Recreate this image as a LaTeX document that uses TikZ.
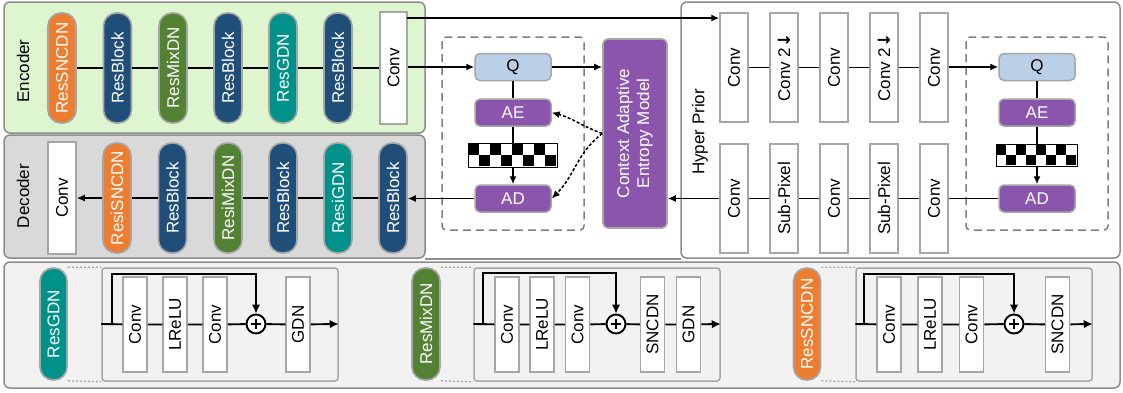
\documentclass[tikz,border=0pt]{standalone}
\usepackage{fontspec}
\setmainfont{Liberation Sans}
\newfontfamily\arrowfont{DejaVu Sans}
\usepackage{graphicx}
\usetikzlibrary{arrows.meta,calc}

\definecolor{encfill}{HTML}{DDF6D0}
\definecolor{decfill}{HTML}{D9D9D9}
\definecolor{panelfill}{HTML}{F2F2F2}
\definecolor{framegray}{HTML}{8C8C8C}
\definecolor{boxgray}{HTML}{A6A6A6}
\definecolor{dashgray}{HTML}{7F7F7F}
\definecolor{cOrange}{HTML}{ED7D31}
\definecolor{cBlue}{HTML}{1F4E79}
\definecolor{cGreen}{HTML}{548235}
\definecolor{cTeal}{HTML}{00918A}
\definecolor{cPurple}{HTML}{8B55AE}
\definecolor{cQ}{HTML}{BACFE8}

\newcommand\vtext[1]{\rotatebox{90}{#1}}
\newcommand\down{{\arrowfont\bfseries ↓}}

\begin{document}
\begin{tikzpicture}[x=1pt,y=-1pt,
  font=\fontsize{17}{20}\selectfont,
  line width=1.4pt,
  arr/.style={-{Latex[length=8pt,width=7pt]}},
  barr/.style={line width=1.9pt,-{Latex[length=9pt,width=8.5pt]}},
  bl/.style={line width=1.9pt},
  pill/.style={draw=boxgray, line width=1.6pt, rounded corners=13pt,
    minimum width=28pt, minimum height=110pt, inner sep=0pt, text=white},
  convbox/.style={draw=boxgray, line width=1.5pt, fill=white,
    minimum width=28pt, minimum height=109pt, inner sep=0pt},
  blk/.style={draw=boxgray, line width=1.5pt, fill=white,
    minimum width=24pt, minimum height=95pt, inner sep=0pt},
  codec/.style={draw=boxgray, line width=1.5pt, rounded corners=5pt,
    minimum width=76pt, minimum height=27pt, inner sep=0pt},
  dbox/.style={draw=dashgray, line width=1.5pt, dash pattern=on 8pt off 5pt,
    rounded corners=4pt},
  detail/.style={draw=boxgray, line width=1.5pt, rounded corners=3pt,
    minimum width=236pt, minimum height=113pt, inner sep=0pt},
  sum/.style={circle, draw, line width=1.9pt, fill=white,
    minimum size=19pt, inner sep=0pt},
  link/.style={draw=boxgray, line width=1.3pt, dash pattern=on 2pt off 2pt},
  ctx/.style={-{Latex[length=8pt,width=7pt]}, line width=1.5pt, dash pattern=on 3pt off 2pt},
  frame/.style={draw=framegray, line width=1.5pt, rounded corners=6pt}
]
\useasboundingbox (0,0) rectangle (1123,392);

% ---------- background frames ----------
\path[frame, fill=encfill] (4,2) rectangle (425,133);
\path[frame, fill=decfill] (4,135) rectangle (425,258);
\path[frame, fill=white] (681,2) rectangle (1120,258);
\draw[framegray, line width=1.5pt] (425,259) -- (681,259);
\path[frame, fill=panelfill] (4,262) rectangle (1120,388);

\node (enclab) at (23,71) {\vtext{Encoder}};
\node (declab) at (23,196) {\vtext{Decoder}};
\node (hplab) at (700,132) {\vtext{Hyper Prior}};

% ---------- encoder ----------
\node[pill, fill=cOrange] (e1) at (62,68) {\vtext{ResSNCDN}};
\node[pill, fill=cBlue]   (e2) at (117.5,68) {\vtext{ResBlock}};
\node[pill, fill=cGreen]  (e3) at (173,68) {\vtext{ResMixDN}};
\node[pill, fill=cBlue]   (e4) at (228,68) {\vtext{ResBlock}};
\node[pill, fill=cTeal]   (e5) at (283,68) {\vtext{ResGDN}};
\node[pill, fill=cBlue]   (e6) at (338,68) {\vtext{ResBlock}};
\node[convbox, minimum width=27pt, minimum height=112pt] (econv) at (393.5,68) {\vtext{Conv}};
\draw (e1) -- (e2) -- (e3) -- (e4) -- (e5) -- (e6) -- (econv);

% ---------- decoder ----------
\node[convbox, minimum height=112pt] (dconv) at (62,198) {\vtext{Conv}};
\node[pill, fill=cOrange] (d1) at (117,198) {\vtext{ResiSNCDN}};
\node[pill, fill=cBlue]   (d2) at (172.5,198) {\vtext{ResBlock}};
\node[pill, fill=cGreen]  (d3) at (228,198) {\vtext{ResiMixDN}};
\node[pill, fill=cBlue]   (d4) at (283,198) {\vtext{ResBlock}};
\node[pill, fill=cTeal]   (d5) at (338,198) {\vtext{ResiGDN}};
\node[pill, fill=cBlue]   (d6) at (393,198) {\vtext{ResBlock}};
\draw (d6) -- (d5) -- (d4) -- (d3) -- (d2) -- (d1);
\draw[arr] (d1) -- (dconv);

% ---------- main quantisation / entropy coding ----------
\path[dbox] (442,37) rectangle (584,230);
\node[codec, fill=cQ] (Q) at (513,67) {Q};
\node[codec, fill=cPurple, text=white] (AE) at (513,112.5) {AE};
\node[inner sep=0pt, minimum width=88pt, minimum height=22pt] (chk) at (513,155.5) {};
\foreach \i in {0,2,4,6}
  \fill ($(chk.north west)+(\i*11,0)$) rectangle ++(11,11);
\foreach \i in {1,3,5,7}
  \fill ($(chk.north west)+(\i*11,11)$) rectangle ++(11,11);
\draw[line width=1pt] (chk.north west) rectangle (chk.south east);
\node[codec, fill=cPurple, text=white] (AD) at (513,198.5) {AD};
\draw (Q) -- (AE);
\draw (AE) -- (chk);
\draw[arr] (chk) -- (AD);

\node[draw=boxgray, line width=1.6pt, fill=cPurple, rounded corners=5pt,
  minimum width=64pt, minimum height=189pt, inner sep=0pt, text=white] (caem) at (635,133.5)
  {\vtext{\begin{tabular}{@{}c@{}}Context Adaptive\\Entropy Model\end{tabular}}};

\draw[arr] (Q.west -| econv.east) -- (Q.west);
\draw[arr] (Q.east) -- (Q.east -| caem.west);
\draw[arr] (AD.west) -- (AD.west -| d6.east);
\draw[ctx] (caem.west) to[out=160, in=-15] (AE.east);
\draw[ctx] (caem.west) to[out=218, in=45] (AD.east);

% ---------- hyper prior ----------
\node[convbox] (h1) at (734,67.5) {\vtext{Conv}};
\node[convbox] (h2) at (784,67.5) {\vtext{Conv 2\down}};
\node[convbox] (h3) at (834,67.5) {\vtext{Conv}};
\node[convbox] (h4) at (884,67.5) {\vtext{Conv 2\down}};
\node[convbox] (h5) at (934,67.5) {\vtext{Conv}};
\node[convbox] (g1) at (734,198.5) {\vtext{Conv}};
\node[convbox] (g2) at (784,198.5) {\vtext{Sub-Pixel}};
\node[convbox] (g3) at (834,198.5) {\vtext{Conv}};
\node[convbox] (g4) at (884,198.5) {\vtext{Sub-Pixel}};
\node[convbox] (g5) at (934,198.5) {\vtext{Conv}};

\path[dbox] (966,37) rectangle (1108,230);
\node[codec, fill=cQ] (Q2) at (1037,67) {Q};
\node[codec, fill=cPurple, text=white] (AE2) at (1037,112.5) {AE};
\node[inner sep=0pt, minimum width=80pt, minimum height=21pt] (chk2) at (1037,155.5) {};
\foreach \i in {0,2,4,6}
  \fill ($(chk2.north west)+(\i*10,0)$) rectangle ++(10,10.5);
\foreach \i in {1,3,5,7}
  \fill ($(chk2.north west)+(\i*10,10.5)$) rectangle ++(10,10.5);
\draw[line width=1pt] (chk2.north west) rectangle (chk2.south east);
\node[codec, fill=cPurple, text=white] (AD2) at (1037,198.5) {AD};
\draw (Q2) -- (AE2);
\draw (AE2) -- (chk2);
\draw[arr] (chk2) -- (AD2);

\coordinate (tap) at (407,18);
\draw[arr] (tap) -- (tap -| h1.west);
\draw (h1) -- (h2) -- (h3) -- (h4) -- (h5);
\draw[arr] (h5.east |- Q2.west) -- (Q2.west);
\draw (AD2) -- (g5) -- (g4) -- (g3) -- (g2) -- (g1);
\draw[arr] (g1.west) -- (g1.west -| caem.east);

% ---------- block details ----------
% ResGDN
\node[pill, fill=cTeal, minimum width=27pt, minimum height=112pt] (p1) at (53.5,324) {\vtext{ResGDN}};
\node[detail] (b1) at (220,324.5) {};
\draw[link] (p1.north east) -- (b1.north west);
\draw[link] (p1.south east) -- (b1.south west);
\node[blk] (c11) at (135,324.5) {\vtext{Conv}};
\node[blk] (c12) at (175,324.5) {\vtext{LReLU}};
\node[blk] (c13) at (215,324.5) {\vtext{Conv}};
\node[sum] (s1) at (256,324) {};
\node[blk] (c14) at (298,324.5) {\vtext{GDN}};
\coordinate (in1) at (b1.west |- s1);
\coordinate (sk1) at (112,274);
\draw[bl] (in1) -- (c11) -- (c12) -- (c13) -- (s1) -- (c14);
\draw[barr] (c14) -- (b1.east |- s1);
\draw[barr] (sk1 |- s1) -- (sk1) -| (s1.north);

% ResMixDN
\node[pill, fill=cGreen, minimum width=28pt, minimum height=112pt] (p2) at (426,324) {\vtext{ResMixDN}};
\node[detail, minimum width=246pt] (b2) at (597,324.5) {};
\draw[link] (p2.north east) -- (b2.north west);
\draw[link] (p2.south east) -- (b2.south west);
\node[blk] (c21) at (507,324.5) {\vtext{Conv}};
\node[blk] (c22) at (542,324.5) {\vtext{LReLU}};
\node[blk] (c23) at (577.5,324.5) {\vtext{Conv}};
\node[sum] (s2) at (616,324) {};
\node[blk] (c24) at (652.5,324.5) {\vtext{SNCDN}};
\node[blk] (c25) at (688.5,324.5) {\vtext{GDN}};
\coordinate (in2) at (b2.west |- s2);
\coordinate (sk2) at (483,273);
\draw[bl] (in2) -- (c21) -- (c22) -- (c23) -- (s2) -- (c24) -- (c25);
\draw[barr] (c25) -- (b2.east |- s2);
\draw[barr] (sk2 |- s2) -- (sk2) -| (s2.north);

% ResSNCDN
\node[pill, fill=cOrange, minimum width=27pt, minimum height=112pt] (p3) at (807,324) {\vtext{ResSNCDN}};
\node[detail] (b3) at (974,324.5) {};
\draw[link] (p3.north east) -- (b3.north west);
\draw[link] (p3.south east) -- (b3.south west);
\node[blk] (c31) at (889,324.5) {\vtext{Conv}};
\node[blk] (c32) at (930,324.5) {\vtext{LReLU}};
\node[blk] (c33) at (971.5,324.5) {\vtext{Conv}};
\node[sum] (s3) at (1014,324) {};
\node[blk] (c34) at (1057.5,324.5) {\vtext{SNCDN}};
\coordinate (in3) at (b3.west |- s3);
\coordinate (sk3) at (864,274);
\draw[bl] (in3) -- (c31) -- (c32) -- (c33) -- (s3) -- (c34);
\draw[barr] (c34) -- (b3.east |- s3);
\draw[barr] (sk3 |- s3) -- (sk3) -| (s3.north);

% plus signs in the summation nodes
\foreach \s in {s1,s2,s3}
  \draw[line width=2.6pt] ($(\s)+(-5,0)$) -- ($(\s)+(5,0)$)
                          ($(\s)+(0,-5)$) -- ($(\s)+(0,5)$);
\end{tikzpicture}
\end{document}
